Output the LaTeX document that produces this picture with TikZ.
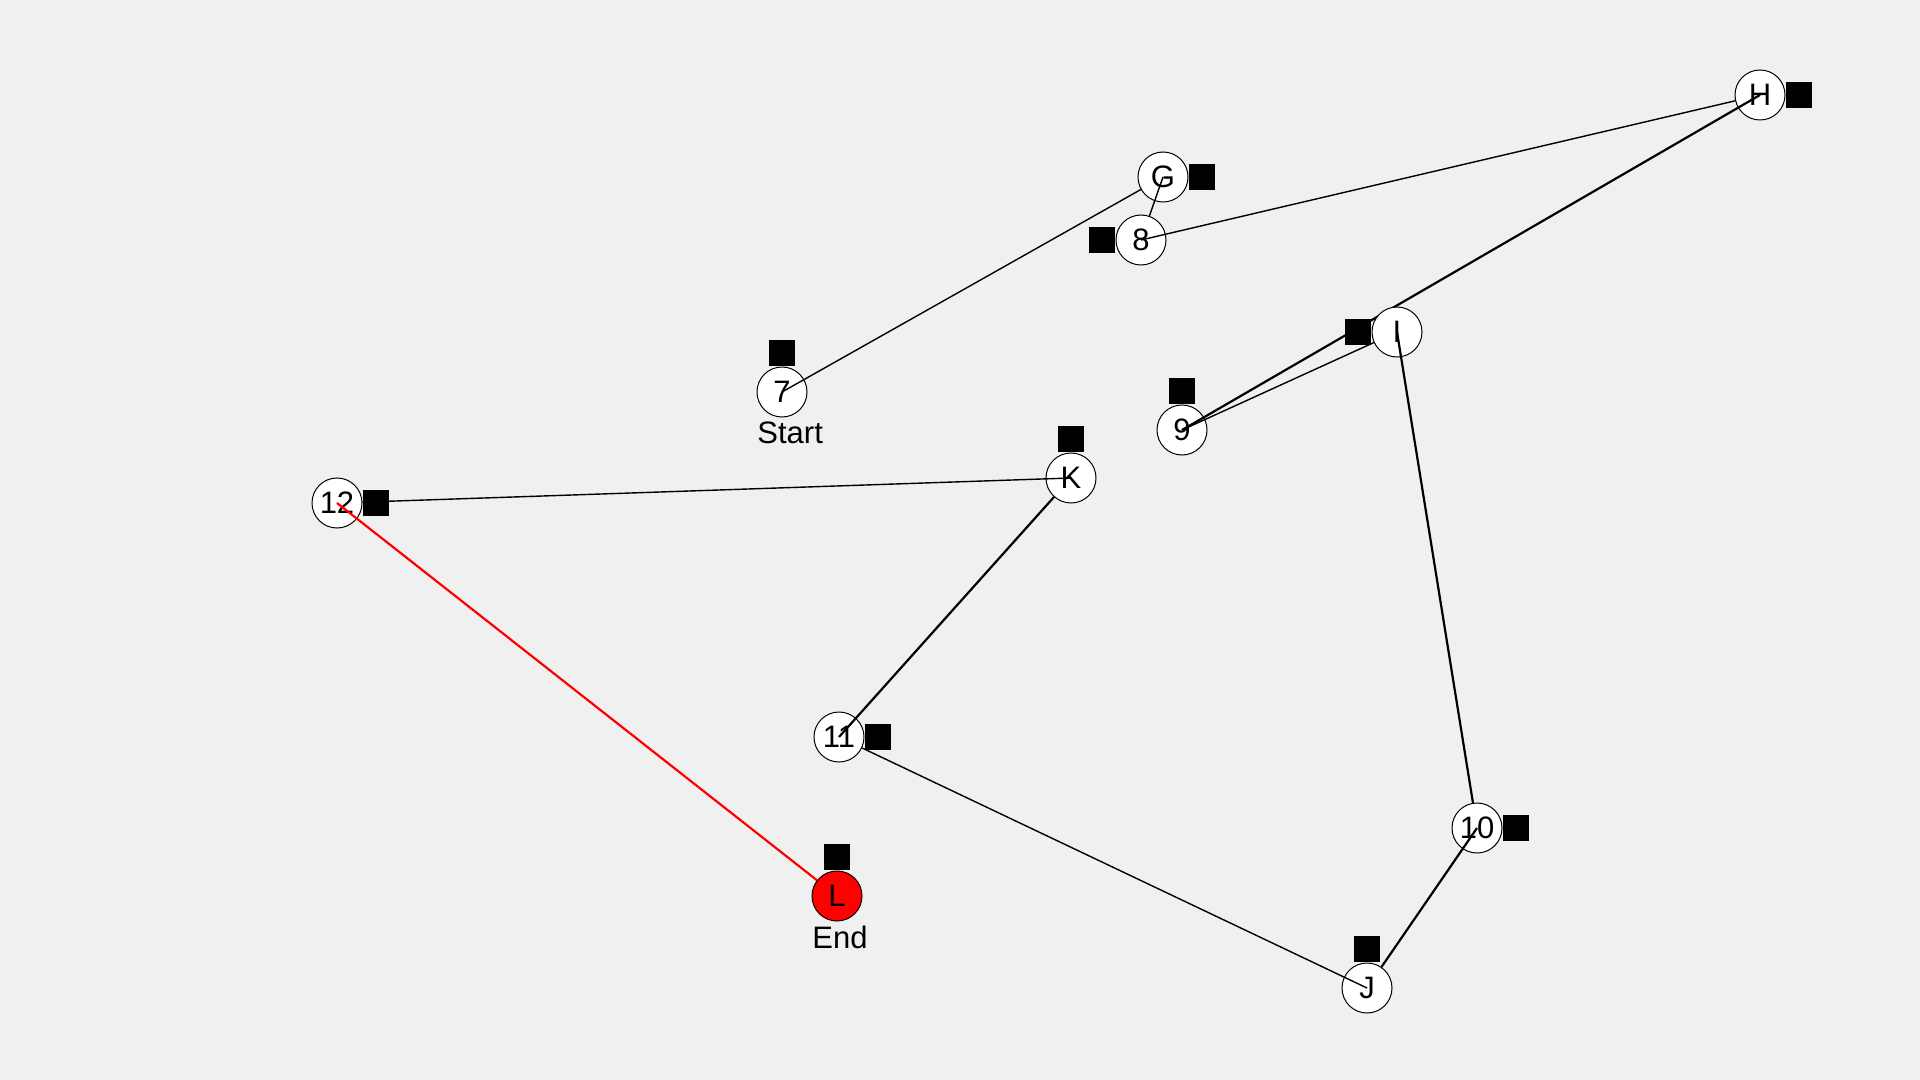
\documentclass[tikz,border=0pt]{standalone}
\usepackage{fontspec}
\setmainfont{Liberation Sans}
\usetikzlibrary{calc}
\definecolor{canvas}{HTML}{F0F0F0}
\definecolor{finish}{HTML}{FF0000}
\tikzset{
  stop/.style={circle, draw=black, line width=0.5pt, fill=white,
    minimum size=25pt, inner sep=0pt, font=\fontsize{15.5}{18}\selectfont},
  endstop/.style={stop, fill=finish},
  flag/.style={rectangle, fill=black, draw=none, minimum size=13pt, inner sep=0pt},
  caption/.style={anchor=base west, inner sep=0pt, font=\fontsize{15.5}{18}\selectfont},
  thinlink/.style={draw=black, line width=0.7pt},
  thicklink/.style={draw=black, line width=1.1pt},
  lastlink/.style={draw=finish, line width=1.1pt}
}
\begin{document}
\begin{tikzpicture}[x=0.5pt, y=-0.5pt]
  % canvas
  \fill[canvas] (0,0) rectangle (1920,1080);
  \useasboundingbox (0,0) rectangle (1920,1080);

  % first stretch of the tour
  \node[stop] (n7) at (782,392) {7};
  \node[stop] (G)  at (1163,177) {G};
  \node[stop] (n8) at (1141,240) {8};
  \node[stop] (H)  at (1760,95) {H};
  \node[stop] (n9) at (1182,430) {9};
  \node[caption] (start) at ($(n7.center)+(-25,51)$) {Start};

  \draw[thinlink]  (n7.center) -- (G);
  \draw[thinlink]  (G.center) -- (n8);
  \draw[thinlink]  (n8.center) -- (H);
  \draw[thicklink] (H.center) -- (n9.center);

  \node[stop] (I) at (1397,332) {I};
  \node[stop] (n10) at (1477,828) {10};
  \draw[thinlink]  (n9.center) -- (I);
  \draw[thicklink] (I.center) -- (n10);

  % second stretch of the tour
  \node[stop] (J)   at (1367,988) {J};
  \node[stop] (n11) at (839,737) {11};
  \node[stop] (K)   at (1071,478) {K};
  \node[stop] (n12) at (337,503) {12};
  \node[endstop] (L) at (837,896) {L};
  \node[caption] (end) at ($(L.center)+(-25,52)$) {End};

  \draw[thicklink] (n10.center) -- (J);
  \draw[thinlink]  (J.center) -- (n11);
  \draw[thicklink] (n11.center) -- (K);
  \draw[thinlink]  (K.center) -- (n12);
  \draw[lastlink]  (n12.center) -- (L);

  % markers beside each stop
  \node[flag, anchor=south] (f7)  at (n7.north) {};
  \node[flag, anchor=west]  (fG)  at (G.east) {};
  \node[flag, anchor=east]  (f8)  at (n8.west) {};
  \node[flag, anchor=west]  (fH)  at (H.east) {};
  \node[flag, anchor=south] (f9)  at (n9.north) {};
  \node[flag, anchor=east]  (fI)  at (I.west) {};
  \node[flag, anchor=west]  (f10) at (n10.east) {};
  \node[flag, anchor=south] (fJ)  at (J.north) {};
  \node[flag, anchor=west]  (f11) at (n11.east) {};
  \node[flag, anchor=south] (fK)  at (K.north) {};
  \node[flag, anchor=west]  (f12) at (n12.east) {};
  \node[flag, anchor=south] (fL)  at (L.north) {};
\end{tikzpicture}
\end{document}
